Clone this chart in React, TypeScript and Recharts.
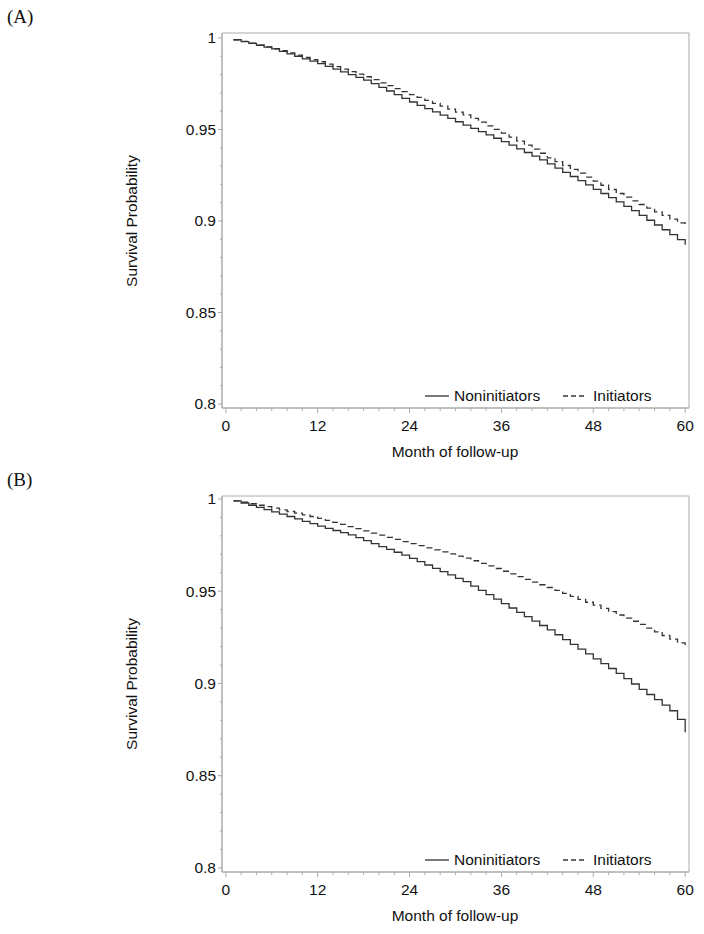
import React from "react";
import { LineChart, Line, XAxis, YAxis, ReferenceArea } from "recharts";

const months = [
  1, 2, 3, 4, 5, 6, 7, 8, 9, 10, 11, 12, 13, 14, 15, 16, 17, 18, 19, 20,
  21, 22, 23, 24, 25, 26, 27, 28, 29, 30, 31, 32, 33, 34, 35, 36, 37, 38, 39, 40,
  41, 42, 43, 44, 45, 46, 47, 48, 49, 50, 51, 52, 53, 54, 55, 56, 57, 58, 59, 60,
];

// panel A
const aNoninitiators = [
  0.999, 0.998, 0.997, 0.996, 0.995, 0.994, 0.9927, 0.9913, 0.99, 0.9886,
  0.9873, 0.986, 0.9845, 0.983, 0.9815, 0.98, 0.9785, 0.977, 0.975, 0.973,
  0.971, 0.969, 0.967, 0.965, 0.9632, 0.9614, 0.9596, 0.9578, 0.956, 0.9542,
  0.9524, 0.9506, 0.9488, 0.947, 0.9452, 0.9434, 0.9414, 0.9394, 0.9374, 0.9354,
  0.9334, 0.9312, 0.9289, 0.9266, 0.9243, 0.922, 0.9197, 0.9173, 0.915, 0.9127,
  0.9104, 0.908, 0.9056, 0.903, 0.9004, 0.8978, 0.8952, 0.8925, 0.8898, 0.887,
];
const aInitiators = [
  0.999, 0.9981, 0.9971, 0.9961, 0.9951, 0.9941, 0.993, 0.9918, 0.9906, 0.9894,
  0.9882, 0.987, 0.9857, 0.9843, 0.983, 0.9816, 0.9802, 0.9788, 0.9772, 0.9755,
  0.9739, 0.9723, 0.9707, 0.969, 0.9675, 0.9659, 0.9643, 0.9627, 0.9611, 0.9595,
  0.958, 0.956, 0.954, 0.952, 0.95, 0.948, 0.9458, 0.9436, 0.9414, 0.9392,
  0.937, 0.9345, 0.9324, 0.9303, 0.9282, 0.9261, 0.924, 0.9218, 0.9195, 0.9172,
  0.915, 0.913, 0.911, 0.909, 0.907, 0.905, 0.903, 0.901, 0.899, 0.8965,
];

// panel B
const bNoninitiators = [
  0.999, 0.9978, 0.9966, 0.9954, 0.9942, 0.993, 0.9918, 0.9905, 0.9892, 0.9879,
  0.9866, 0.9853, 0.9841, 0.9829, 0.9817, 0.9805, 0.979, 0.9774, 0.9758, 0.9742,
  0.9727, 0.9711, 0.9696, 0.9678, 0.966, 0.9642, 0.9624, 0.9606, 0.9588, 0.957,
  0.9552, 0.9528, 0.9504, 0.9481, 0.9457, 0.9433, 0.9409, 0.9385, 0.9362, 0.9338,
  0.9314, 0.929, 0.9264, 0.9238, 0.9212, 0.9186, 0.916, 0.9133, 0.9107, 0.9081,
  0.9055, 0.9026, 0.8997, 0.8968, 0.894, 0.8912, 0.8883, 0.8852, 0.8805, 0.8735,
];
const bInitiators = [
  0.999, 0.9982, 0.9974, 0.9966, 0.9958, 0.995, 0.9941, 0.9932, 0.9923, 0.9914,
  0.9905, 0.9895, 0.9884, 0.9873, 0.9862, 0.985, 0.9839, 0.9827, 0.9815, 0.9804,
  0.9792, 0.9781, 0.9769, 0.9758, 0.9747, 0.9735, 0.9724, 0.9713, 0.9702, 0.969,
  0.9679, 0.9665, 0.9651, 0.9637, 0.9623, 0.9608, 0.9594, 0.9579, 0.9564, 0.9549,
  0.9535, 0.952, 0.9504, 0.9488, 0.9472, 0.9456, 0.944, 0.9425, 0.9407, 0.9389,
  0.9371, 0.9354, 0.9337, 0.932, 0.93, 0.928, 0.926, 0.924, 0.922, 0.92,
];

const xTicks = [
  0, 2, 4, 6, 8, 10, 12, 14, 16, 18, 20, 22, 24, 26, 28, 30, 32, 34, 36, 38,
  40, 42, 44, 46, 48, 50, 52, 54, 56, 58, 60,
];
const yTicks = [
  0.8, 0.81, 0.82, 0.83, 0.84, 0.85, 0.86, 0.87, 0.88, 0.89, 0.9, 0.91, 0.92,
  0.93, 0.94, 0.95, 0.96, 0.97, 0.98, 0.99, 1,
];
const seriesNames = ["Noninitiators", "Initiators"];

const FONT = "'Liberation Sans', Arial, sans-serif";
const FRAME = "#ababab";
const INK = "#333";
const X_MIN = -0.5;
const X_MAX = 60.5;
const Y_MIN = 0.7978;

const XTick = (props: any) => {
  const { x, y, payload } = props;
  const major = payload.value % 12 === 0;
  return (
    <g>
      <line x1={x} x2={x} y1={y} y2={y + (major ? 5 : 3)} stroke={FRAME} />
      {major && (
        <text x={x} y={y + 23} textAnchor="middle" fontSize={15.5} fontFamily={FONT} fill="#111">
          {payload.value}
        </text>
      )}
    </g>
  );
};

const YTick = (props: any) => {
  const { x, y, payload } = props;
  const major = Math.round(payload.value * 100) % 5 === 0;
  return (
    <g>
      <line x1={x} x2={x - (major ? 4 : 2)} y1={y} y2={y} stroke={FRAME} />
      {major && (
        <text x={x - 6} y={y + 5.5} textAnchor="end" fontSize={15.5} fontFamily={FONT} fill="#111">
          {payload.value}
        </text>
      )}
    </g>
  );
};

type PanelProps = {
  top: number;
  letter: string;
  non: number[];
  init: number[];
  yMax: number;
  plotH: number;
};

const CHART_H = 460;
const Y_AXIS_W = 60;
const X_AXIS_H = 40;

const Panel: React.FC<PanelProps> = ({ top, letter, non, init, yMax, plotH }) => {
  const data = months.map((m, i) => ({ month: m, non: non[i], init: init[i] }));
  const plotTop = top + 33;
  const plotBottom = plotTop + plotH;
  const midY = (plotTop + plotBottom) / 2;

  return (
    <>
      <div
        style={{
          position: "absolute",
          left: 7,
          top: top + 5,
          fontFamily: "'Liberation Serif', 'Times New Roman', serif",
          fontSize: 19,
          lineHeight: "24px",
          color: "#111",
        }}
      >
        ({letter})
      </div>
      <div style={{ position: "absolute", left: 0, top }}>
        <LineChart
          width={704}
          height={CHART_H}
          data={data}
          margin={{
            top: 33,
            left: 222 - Y_AXIS_W,
            right: 15,
            bottom: CHART_H - 33 - plotH - X_AXIS_H,
          }}
        >
          <XAxis
            dataKey="month"
            type="number"
            domain={[X_MIN, X_MAX]}
            ticks={xTicks}
            interval={0}
            allowDataOverflow
            height={X_AXIS_H}
            tickSize={0}
            tickMargin={0}
            tick={<XTick />}
            axisLine={{ stroke: FRAME }}
          />
          <YAxis
            type="number"
            domain={[Y_MIN, yMax]}
            ticks={yTicks}
            interval={0}
            allowDataOverflow
            width={Y_AXIS_W}
            tickSize={0}
            tickMargin={0}
            tick={<YTick />}
            axisLine={{ stroke: FRAME }}
          />
          <ReferenceArea
            x1={X_MIN}
            x2={X_MAX}
            y1={Y_MIN}
            y2={yMax}
            fill="none"
            fillOpacity={0}
            stroke={FRAME}
            strokeOpacity={1}
            ifOverflow="visible"
          />
          <Line
            type="stepAfter"
            dataKey="non"
            name={seriesNames[0]}
            stroke={INK}
            strokeWidth={1.3}
            dot={false}
            isAnimationActive={false}
          />
          <Line
            type="stepAfter"
            dataKey="init"
            name={seriesNames[1]}
            stroke={INK}
            strokeWidth={1.3}
            strokeDasharray="6 4"
            dot={false}
            isAnimationActive={false}
          />
        </LineChart>
      </div>

      {/* legend inside the frame */}
      <svg
        style={{ position: "absolute", left: 424, top: plotBottom - 17 }}
        width={170}
        height={10}
      >
        <line x1={1} x2={25} y1={5} y2={5} stroke={INK} strokeWidth={1.3} />
        <line x1={139} x2={163} y1={5} y2={5} stroke={INK} strokeWidth={1.3} strokeDasharray="5 3" />
      </svg>
      <div
        style={{
          position: "absolute",
          left: 454,
          top: plotBottom - 21,
          fontFamily: FONT,
          fontSize: 15.5,
          lineHeight: "18px",
          color: "#111",
          whiteSpace: "nowrap",
        }}
      >
        {seriesNames[0]}
      </div>
      <div
        style={{
          position: "absolute",
          left: 593,
          top: plotBottom - 21,
          fontFamily: FONT,
          fontSize: 15.5,
          lineHeight: "18px",
          color: "#111",
          whiteSpace: "nowrap",
        }}
      >
        {seriesNames[1]}
      </div>

      {/* axis titles */}
      <div
        style={{
          position: "absolute",
          left: 455,
          top: plotBottom + 44,
          transform: "translate(-50%, -50%)",
          fontFamily: FONT,
          fontSize: 15.5,
          lineHeight: "18px",
          color: "#111",
          whiteSpace: "nowrap",
        }}
      >
        Month of follow-up
      </div>
      <div
        style={{
          position: "absolute",
          left: 132,
          top: midY,
          transform: "translate(-50%, -50%) rotate(-90deg)",
          fontFamily: FONT,
          fontSize: 15.5,
          lineHeight: "18px",
          color: "#111",
          whiteSpace: "nowrap",
        }}
      >
        Survival Probability
      </div>
    </>
  );
};

export default function App() {
  return (
    <div
      style={{
        position: "absolute",
        left: 0,
        top: 0,
        width: 704,
        height: 934,
        background: "#fff",
        overflow: "hidden",
      }}
    >
      <Panel top={0} letter="A" non={aNoninitiators} init={aInitiators} yMax={1.0027} plotH={375} />
      <Panel top={463} letter="B" non={bNoninitiators} init={bInitiators} yMax={1.0016} plotH={376} />
    </div>
  );
}
